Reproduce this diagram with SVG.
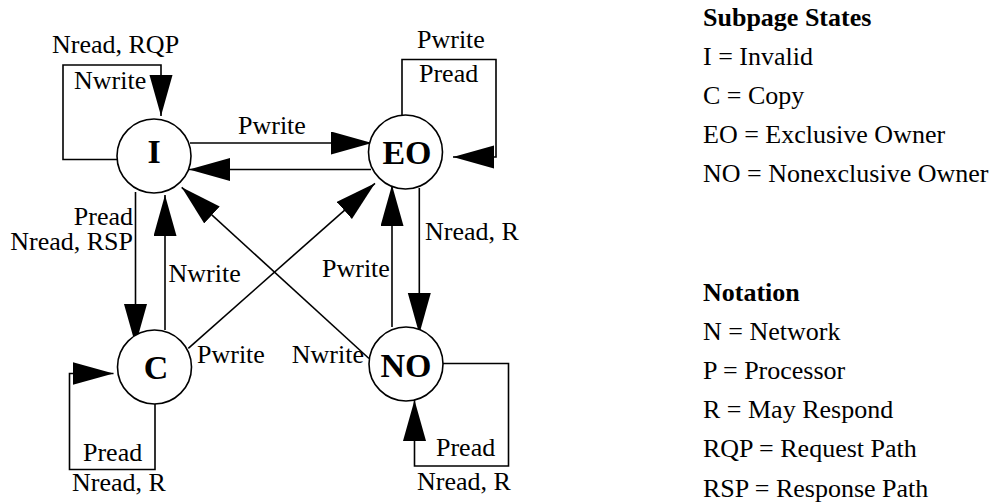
<svg xmlns="http://www.w3.org/2000/svg" width="993" height="502" viewBox="0 0 993 502">
  <style>
    .node circle { fill: #fff; stroke: #000; stroke-width: 1.6; }
    .node text { font-family: "Liberation Serif", "Times New Roman", serif; font-weight: bold; font-size: 34px; text-anchor: middle; fill: #000; }
    .edge { fill: none; stroke: #000; stroke-width: 1.6; marker-end: url(#arrow); }
    .lbl { font-family: "Liberation Serif", "Times New Roman", serif; font-size: 26px; fill: #000; }
    .end { text-anchor: end; }
    .head { font-weight: bold; }
  </style>
  <defs>
    <marker id="arrow" markerUnits="userSpaceOnUse" markerWidth="42" markerHeight="24" refX="41" refY="11.5" orient="auto">
      <path d="M0,0 L41,11.5 L0,23 Z" fill="#000"/>
    </marker>
  </defs>
  <rect width="993" height="502" fill="#fff"/>

  <!-- transitions -->
  <g id="connectors">
    <!-- I self-loop -->
    <path class="edge" d="M117,159.5 H63 V65 H161 V116"/>
    <!-- I <-> EO -->
    <path class="edge" d="M190,143 H372"/>
    <path class="edge" d="M371,169.5 H189"/>
    <!-- EO self-loop -->
    <path class="edge" d="M402,115 V59.5 H496 V157 H453"/>
    <!-- I <-> C -->
    <path class="edge" d="M135.5,192 V345"/>
    <path class="edge" d="M165,330 V195"/>
    <!-- EO <-> NO -->
    <path class="edge" d="M419.3,188 V334"/>
    <path class="edge" d="M392,327 V185"/>
    <!-- diagonals -->
    <path class="edge" d="M369,358.5 L181.7,187.3"/>
    <path class="edge" d="M188.3,348.3 L375,183.3"/>
    <!-- C self-loop -->
    <path class="edge" d="M155,404 V469.5 H69.5 V373.5 H113.5"/>
    <!-- NO self-loop -->
    <path class="edge" d="M443,363.5 H508.5 V466 H414.5 V400"/>
  </g>

  <!-- transition labels -->
  <g id="edge-labels">
    <text class="lbl" x="52" y="53">Nread, RQP</text>
    <text class="lbl" x="74" y="89">Nwrite</text>
    <text class="lbl" x="238" y="134">Pwrite</text>
    <text class="lbl" x="417" y="48">Pwrite</text>
    <text class="lbl" x="419" y="82">Pread</text>
    <text class="lbl end" x="133" y="225">Pread</text>
    <text class="lbl end" x="133" y="250">Nread, RSP</text>
    <text class="lbl" x="168.5" y="282">Nwrite</text>
    <text class="lbl" x="425" y="240">Nread, R</text>
    <text class="lbl" x="322" y="277">Pwrite</text>
    <text class="lbl" x="197" y="363">Pwrite</text>
    <text class="lbl end" x="364" y="363">Nwrite</text>
    <text class="lbl" x="83" y="461">Pread</text>
    <text class="lbl" x="72" y="491">Nread, R</text>
    <text class="lbl" x="436" y="456">Pread</text>
    <text class="lbl" x="417" y="490">Nread, R</text>
  </g>

  <!-- states -->
  <g id="node-I" class="node">
    <circle cx="154" cy="156" r="37"/>
    <text x="154" y="163">I</text>
  </g>
  <g id="node-EO" class="node">
    <circle cx="405.5" cy="152" r="37"/>
    <text x="407" y="163.5">EO</text>
  </g>
  <g id="node-C" class="node">
    <circle cx="154.5" cy="367" r="37"/>
    <text x="156" y="379">C</text>
  </g>
  <g id="node-NO" class="node">
    <circle cx="406" cy="364" r="37"/>
    <text x="406" y="377">NO</text>
  </g>

  <!-- legend -->
  <g id="legend-states">
    <text class="lbl head" x="703" y="26">Subpage States</text>
    <text class="lbl" x="703" y="65">I = Invalid</text>
    <text class="lbl" x="703" y="104">C = Copy</text>
    <text class="lbl" x="703" y="143">EO = Exclusive Owner</text>
    <text class="lbl" x="703" y="182">NO = Nonexclusive Owner</text>
  </g>
  <g id="legend-notation">
    <text class="lbl head" x="703" y="301">Notation</text>
    <text class="lbl" x="703" y="340">N = Network</text>
    <text class="lbl" x="703" y="379">P = Processor</text>
    <text class="lbl" x="703" y="418">R = May Respond</text>
    <text class="lbl" x="703" y="457">RQP = Request Path</text>
    <text class="lbl" x="703" y="497">RSP = Response Path</text>
  </g>
</svg>
